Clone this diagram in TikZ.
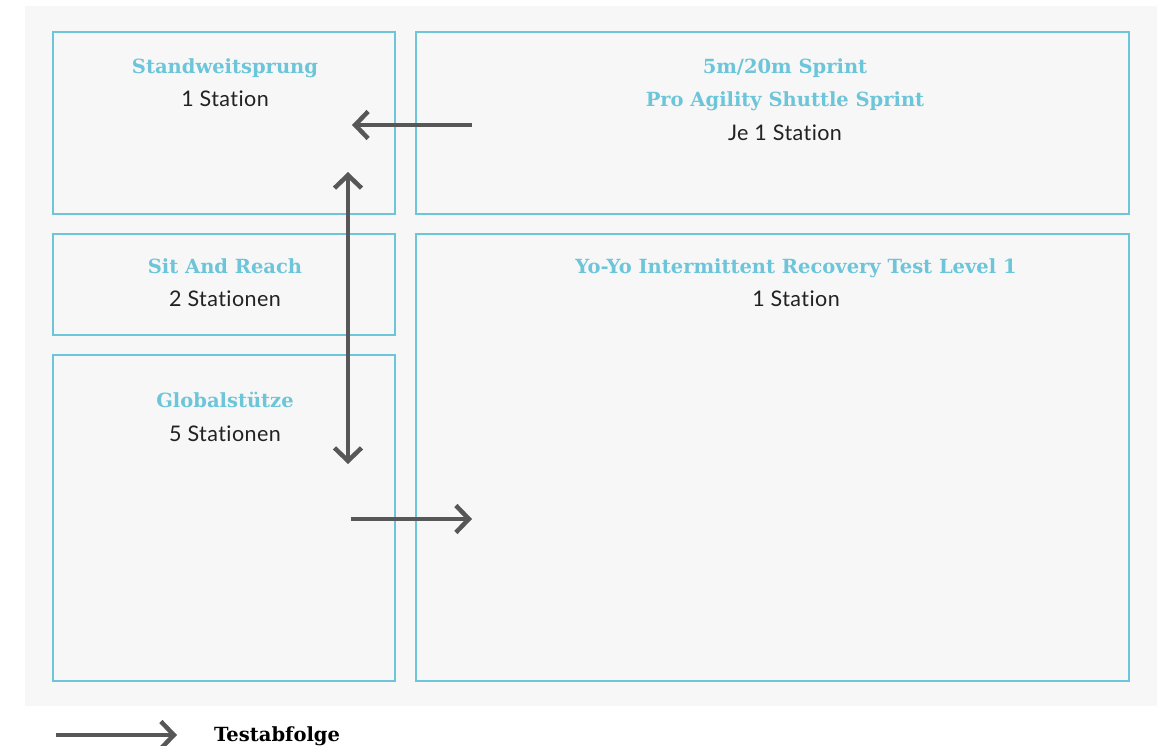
\documentclass[tikz,border=0pt]{standalone}
\usepackage{fontspec}
\setmainfont[Ligatures={NoCommon,NoRare}]{Lato}
\newfontfamily\slabfont{DejaVu Serif}
\usetikzlibrary{arrows.meta}
\definecolor{panelbg}{HTML}{F7F7F7}
\definecolor{frame}{HTML}{6CC5D9}
\definecolor{flow}{HTML}{575757}
\definecolor{bodytext}{HTML}{222222}
\tikzset{
  zone/.style={draw=frame, line width=2.6pt, fill=panelbg},
  title/.style={anchor=base, text=frame, font=\slabfont\bfseries\fontsize{19.5}{22}\selectfont, inner sep=0pt},
  info/.style={anchor=base, text=bodytext, font=\fontsize{21.5}{24}\selectfont\addfontfeature{LetterSpace=2}, inner sep=0pt},
  legendtext/.style={anchor=base west, text=black, font=\slabfont\bfseries\fontsize{19.5}{22}\selectfont, inner sep=0pt},
  barb/.tip={Straight Barb[length=13pt,width=27pt,line width=4.5pt]},
  flowarrow/.style={draw=flow, line width=4.5pt, -barb},
  flowboth/.style={draw=flow, line width=4.5pt, barb-barb}
}
\begin{document}
\begin{tikzpicture}[x=1pt,y=-1pt]
\useasboundingbox (0,0) rectangle (1163,746);
% grey panel behind the station plan
\fill[panelbg] (25,6) rectangle (1157,706);

% stations
\draw[zone] (53,32) rectangle (395,214);
\draw[zone] (416,32) rectangle (1129,214);
\draw[zone] (53,234) rectangle (395,335);
\draw[zone] (416,234) rectangle (1129,681);
\draw[zone] (53,355) rectangle (395,681);

\node[title] (t1) at (225,74) {Standweitsprung};
\node[info]  (i1) at (225,107) {1 Station};

\node[title] (t2a) at (785,74) {5m/20m Sprint};
\node[title] (t2b) at (785,107) {Pro Agility Shuttle Sprint};
\node[info]  (i2)  at (785,141) {Je 1 Station};

\node[title] (t3) at (225,274) {Sit And Reach};
\node[info]  (i3) at (225,307) {2 Stationen};

\node[title] (t4) at (796,274) {Yo-Yo Intermittent Recovery Test Level 1};
\node[info]  (i4) at (796,307) {1 Station};

\node[title] (t5) at (225,407) {Globalstütze};
\node[info]  (i5) at (225,441) {5 Stationen};

% test sequence
\coordinate (sprintOut) at (472,125);
\coordinate (jumpIn) at (352,125);
\coordinate (colTop) at (348,172);
\coordinate (colBottom) at (348,464);
\coordinate (globalOut) at (351,519);
\coordinate (yoyoIn) at (472,519);
\draw[flowarrow] (sprintOut) -- (jumpIn);
\draw[flowboth] (colTop) -- (colBottom);
\draw[flowarrow] (globalOut) -- (yoyoIn);

% legend
\coordinate (legStart) at (56,735);
\coordinate (legEnd) at (177,735);
\draw[flowarrow] (legStart) -- (legEnd);
\node[legendtext] (leg) at (214,741) {Testabfolge};
\end{tikzpicture}
\end{document}
